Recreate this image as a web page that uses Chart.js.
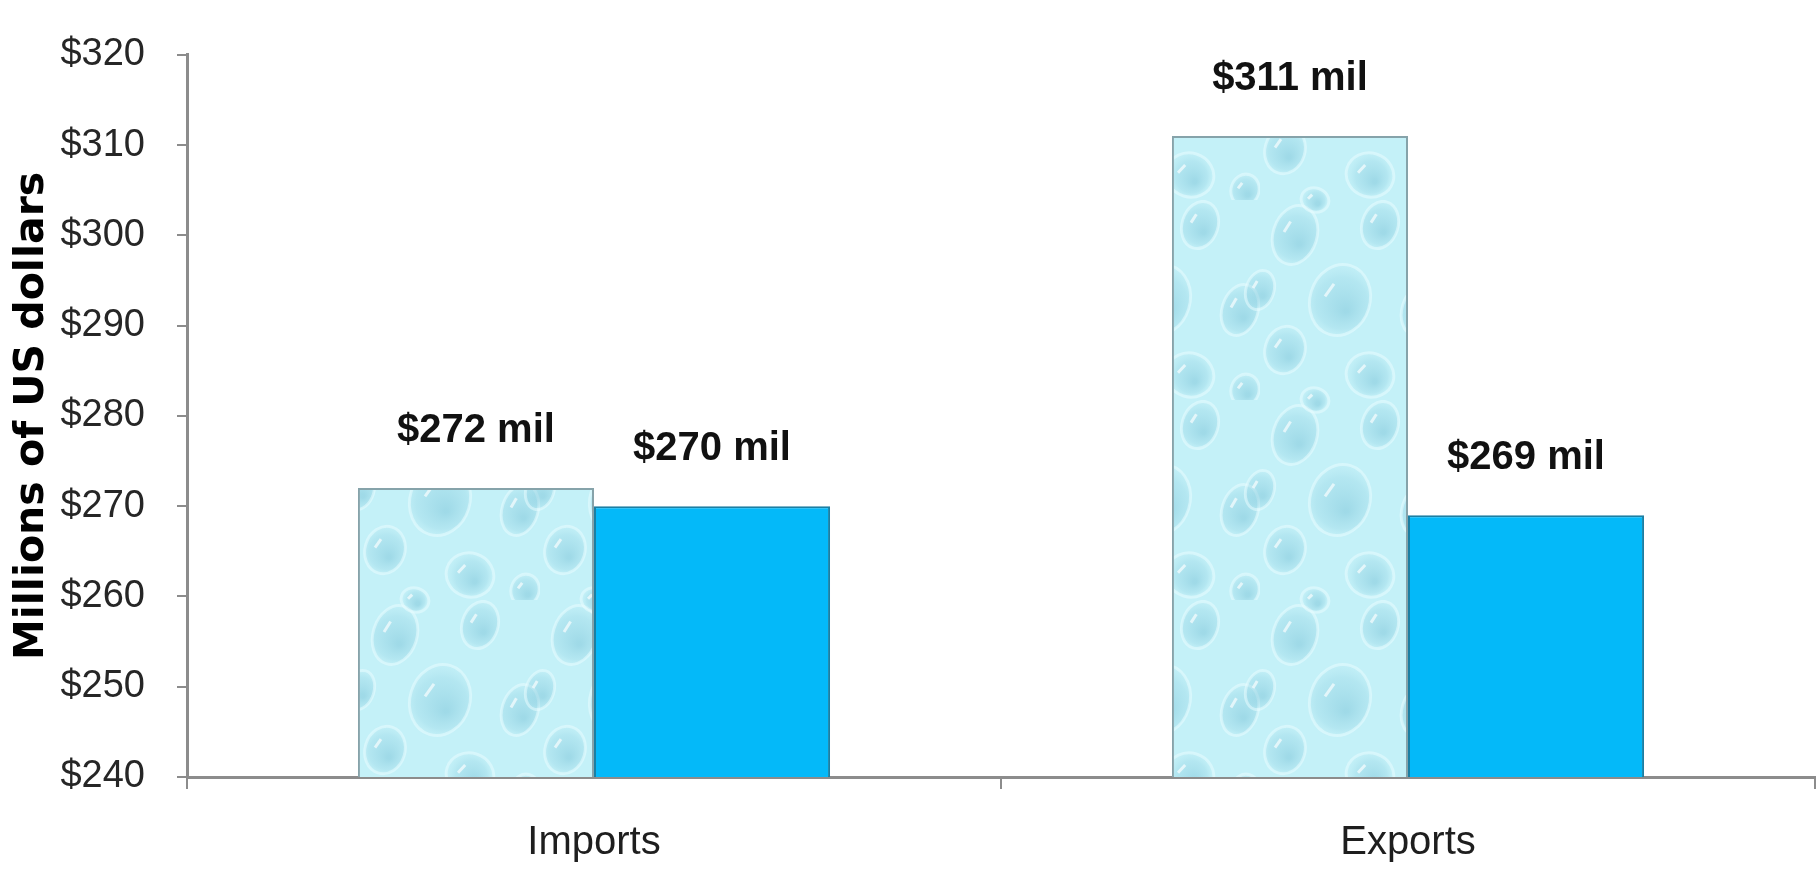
<!DOCTYPE html>
<html lang="en">
<head>
    <meta charset="UTF-8">
    <title>Imports and Exports</title>
    <style>
        html, body { margin: 0; padding: 0; background: #fff; }
        #wrap { width: 1820px; height: 874px; position: relative; }
    </style>
</head>
<body>
    <div id="wrap"><canvas id="tradeChart"></canvas></div>

    <script src="https://cdn.jsdelivr.net/npm/chart.js"></script>
    <script>
        // data
        const categories = ['Imports', 'Exports'];
        const firstSeries = [272, 311];
        const secondSeries = [270, 269];
        const yMin = 240;
        const yMax = 320;
        const yStep = 10;

        const sans = "'Liberation Sans', Arial, sans-serif";

        // soft water drop texture for the first series
        function dropPattern() {
            const tile = document.createElement('canvas');
            tile.width = 180;
            tile.height = 200;
            const c = tile.getContext('2d');
            c.fillStyle = '#c4f1f8';
            c.fillRect(0, 0, 180, 200);

            const drops = [[35, 35, 22, 30], [120, 25, 18, 24], [80, 100, 30, 36], [160, 110, 18, 26],
                           [25, 150, 20, 24], [110, 175, 24, 22], [165, 190, 14, 16], [55, 200, 14, 12],
                           [55, 0, 14, 12], [0, 90, 14, 20], [180, 90, 14, 20]];
            drops.forEach(d => {
                const rg = c.createRadialGradient(d[0] + d[2] * 0.2, d[1] + d[3] * 0.3, 2, d[0], d[1], d[3]);
                rg.addColorStop(0, 'rgba(115,190,212,0.45)');
                rg.addColorStop(0.7, 'rgba(130,200,220,0.25)');
                rg.addColorStop(1, 'rgba(150,210,225,0.05)');
                c.fillStyle = rg;
                c.beginPath();
                c.ellipse(d[0], d[1], d[2], d[3], 0.3, 0, Math.PI * 2);
                c.fill();
                c.strokeStyle = 'rgba(235,253,255,0.5)';
                c.lineWidth = 3;
                c.stroke();
                c.strokeStyle = 'rgba(255,255,255,0.65)';
                c.beginPath();
                c.moveTo(d[0] - d[2] * 0.5, d[1] - d[3] * 0.1);
                c.lineTo(d[0] - d[2] * 0.2, d[1] - d[3] * 0.45);
                c.stroke();
            });
            return c.createPattern(tile, 'repeat');
        }

        const valueLabels = {
            id: 'valueLabels',
            afterDatasetsDraw(chart) {
                const ctx = chart.ctx;
                ctx.save();
                // grey foot under each bar
                chart.data.datasets.forEach((ds, i) => {
                    chart.getDatasetMeta(i).data.forEach(bar => {
                        ctx.fillStyle = 'rgba(120,128,132,0.85)';
                        ctx.fillRect(bar.x - bar.width / 2, bar.base - 6, bar.width, 6);
                    });
                });
                ctx.font = "bold 40px " + sans;
                ctx.fillStyle = '#111';
                ctx.textAlign = 'center';
                ctx.textBaseline = 'middle';
                chart.data.datasets.forEach((ds, i) => {
                    chart.getDatasetMeta(i).data.forEach((bar, j) => {
                        ctx.fillText('$' + ds.data[j] + ' mil', bar.x, bar.y - 57);
                    });
                });
                ctx.restore();
            }
        };

        const ctx = document.getElementById('tradeChart').getContext('2d');

        const tradeChart = new Chart(ctx, {
            type: 'bar',
            data: {
                labels: categories,
                datasets: [{
                    data: firstSeries,
                    backgroundColor: dropPattern(),
                    borderColor: '#86a3aa',
                    borderWidth: 2,
                    borderSkipped: false
                }, {
                    data: secondSeries,
                    backgroundColor: '#04b9f9',
                    borderColor: '#1b7fa3',
                    borderWidth: 2,
                    borderSkipped: false
                }]
            },
            plugins: [valueLabels],
            options: {
                responsive: true,
                maintainAspectRatio: false,
                animation: false,
                layout: { padding: { top: 43, right: 5, left: 0, bottom: 0 } },
                datasets: {
                    bar: { categoryPercentage: 0.58, barPercentage: 1.0 }
                },
                scales: {
                    x: {
                        afterFit(scale) { scale.height = 97; },
                        grid: {
                            drawOnChartArea: false,
                            drawTicks: true,
                            tickLength: 12,
                            color: '#8c8c8c',
                            lineWidth: 2
                        },
                        border: { display: true, color: '#8c8c8c', width: 3 },
                        ticks: {
                            color: '#1e1e1e',
                            padding: 30,
                            font: { family: sans, size: 40 }
                        }
                    },
                    y: {
                        min: yMin,
                        max: yMax,
                        afterFit(scale) { scale.width = 187; },
                        grid: {
                            drawOnChartArea: false,
                            drawTicks: true,
                            tickLength: 10,
                            color: '#8c8c8c',
                            lineWidth: 2
                        },
                        border: { display: true, color: '#8c8c8c', width: 3 },
                        ticks: {
                            stepSize: yStep,
                            color: '#262626',
                            padding: 32,
                            font: { family: sans, size: 38 },
                            callback: v => '$' + v
                        },
                        title: {
                            display: true,
                            text: 'Millions of US dollars',
                            color: '#000',
                            padding: { top: 8, bottom: 0 },
                            font: { family: "'DejaVu Sans', sans-serif", size: 41, weight: 'bold' }
                        }
                    }
                },
                plugins: {
                    legend: { display: false },
                    tooltip: { enabled: false }
                }
            }
        });
    </script>
</body>
</html>
